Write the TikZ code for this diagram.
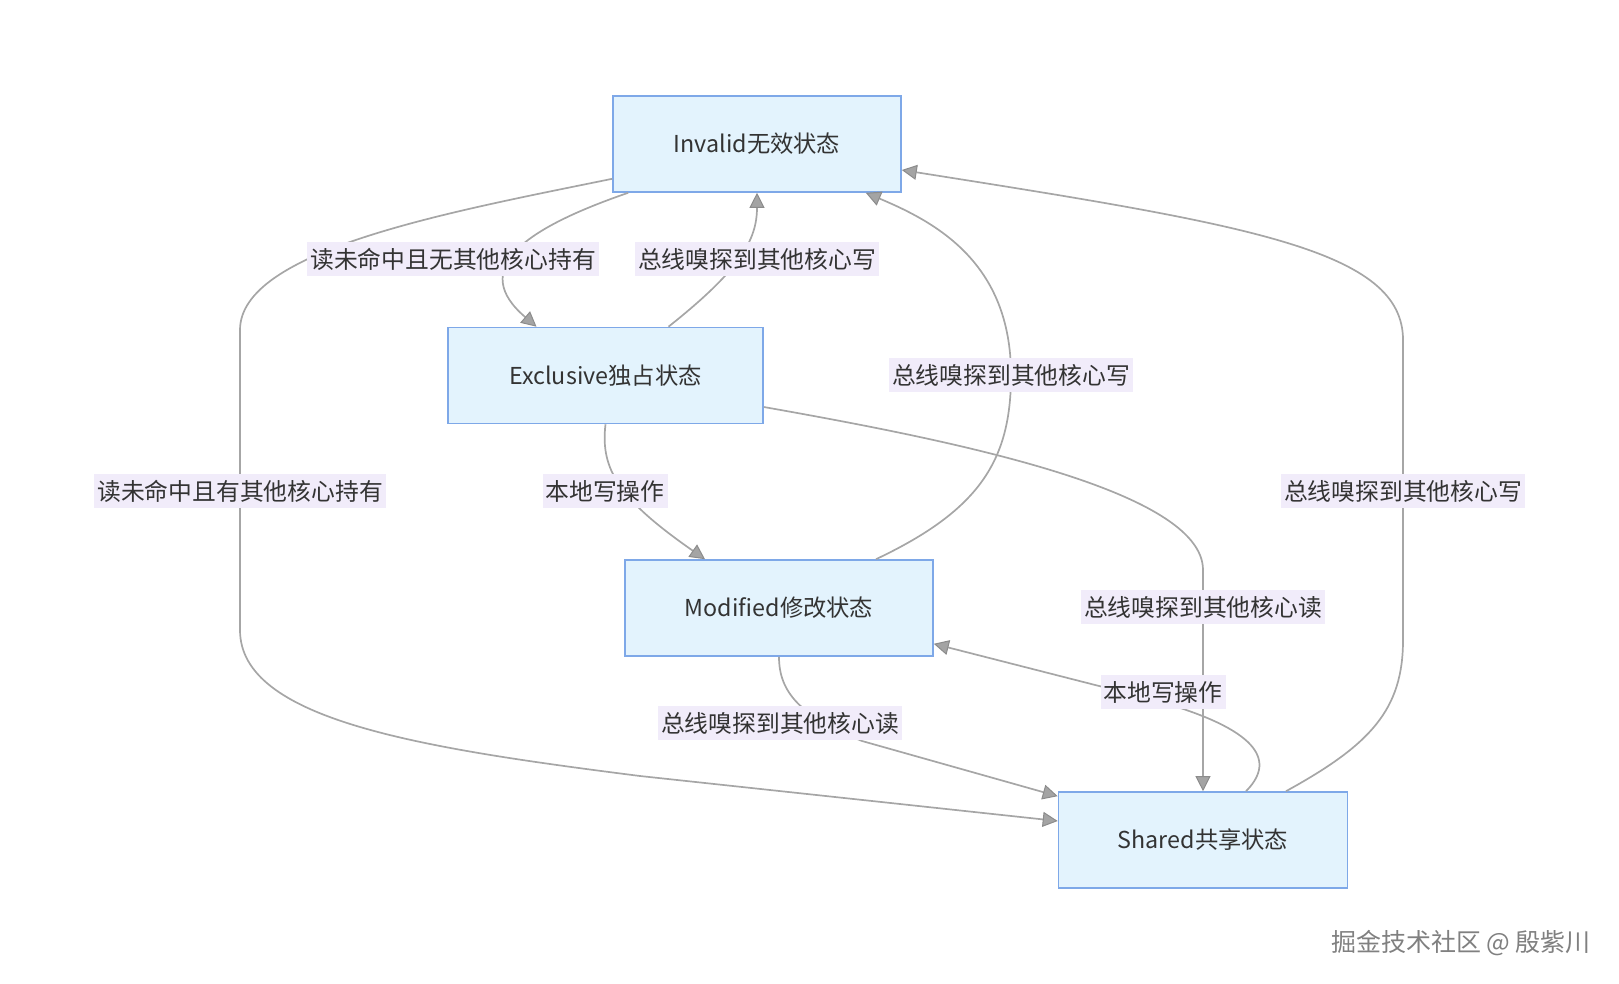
\documentclass[tikz,border=0pt]{standalone}
\usepackage{fontspec}
\setmainfont{Noto Sans CJK SC}
\usetikzlibrary{arrows.meta}
\definecolor{nodefill}{HTML}{E3F3FD}
\definecolor{nodeline}{HTML}{7EA8E8}
\definecolor{lblfill}{HTML}{F1ECFA}
\definecolor{edgecol}{HTML}{A6A6A6}
\definecolor{tipcol}{HTML}{A4A4A4}
\definecolor{tipline}{HTML}{8C8C8C}
\definecolor{txtcol}{HTML}{333333}
\definecolor{wmcol}{HTML}{808080}
\tikzset{
  state/.style={draw=nodeline, fill=nodefill, line width=1.6pt, minimum height=96pt,
    inner sep=0pt, text=txtcol, font=\fontsize{23.3}{27}\selectfont},
  elabel/.style={fill=lblfill, text=txtcol, inner xsep=3pt, inner ysep=0pt,
    minimum height=34pt, font=\fontsize{23.8}{28}\selectfont},
  edge/.style={draw=edgecol, line width=1.7pt,
    -{Triangle[length=15pt,width=15pt,fill=tipcol,color=tipline,line width=1pt]}},
}
\begin{document}
\begin{tikzpicture}[x=1pt,y=-1pt]
\useasboundingbox (0,0) rectangle (1619,984);
% states
\node[state, minimum width=288pt] (inv) at (757,144) {Invalid无效状态};
\node[state, minimum width=315pt] (exc) at (605.5,375.5) {Exclusive独占状态};
\node[state, minimum width=308pt] (mod) at (779,608) {Modified修改状态};
\node[state, minimum width=289pt] (sh)  at (1203,840) {Shared共享状态};
% edges
\draw[edge] ([xshift=16pt]inv.south west) .. controls (520,230) and (470,270) .. ([xshift=-69pt]exc.north);
\draw[edge] ([xshift=63pt]exc.north) .. controls (740,270) and (757,240) .. (inv.south);
\draw[edge] ([xshift=97pt]mod.north) .. controls (980,510) and (1011,460) .. (1011,375)
   .. controls (1011,262) and (935,222) .. ([xshift=-36pt]inv.south east);
\draw[edge] ([xshift=83pt]sh.north) .. controls (1370,745) and (1403,710) .. (1403,640)
   -- (1403,340) .. controls (1403,250) and (1250,225) .. ([yshift=-26pt]inv.east);
\draw[edge] ([yshift=14pt]inv.south west) .. controls (450,212) and (240,250) .. (240,330)
   -- (240,630) .. controls (240,720) and (420,748) .. (640,776) -- ([yshift=19pt]sh.west);
\draw[edge] (exc.south) .. controls (600,470) and (620,500) .. ([xshift=-74pt]mod.north);
\draw[edge] ([yshift=-31.5pt]exc.east) .. controls (950,440) and (1203,490) .. (1203,570) -- (sh.north);
\draw[edge] ([xshift=43pt]sh.north) .. controls (1285,752) and (1235,722) .. (1150,699) -- ([yshift=13pt]mod.south east);
\draw[edge] (mod.south) .. controls (779,692) and (800,716) .. (862,741) -- ([yshift=-5pt]sh.north west);
% edge labels
\node[elabel] (l1) at (453,259) {读未命中且无其他核心持有};
\node[elabel] (l2) at (757,259) {总线嗅探到其他核心写};
\node[elabel] (l3) at (1011,375) {总线嗅探到其他核心写};
\node[elabel] (l4) at (240,491) {读未命中且有其他核心持有};
\node[elabel] (l5) at (605,491) {本地写操作};
\node[elabel] (l6) at (1403,491) {总线嗅探到其他核心写};
\node[elabel] (l7) at (1203,607) {总线嗅探到其他核心读};
\node[elabel] (l8) at (1163,692) {本地写操作};
\node[elabel] (l9) at (780,723) {总线嗅探到其他核心读};
% watermark
\node[text=wmcol, font=\fontsize{25}{29}\selectfont] (wm) at (1461,943) {掘金技术社区 @ 殷紫川};
\end{tikzpicture}
\end{document}
